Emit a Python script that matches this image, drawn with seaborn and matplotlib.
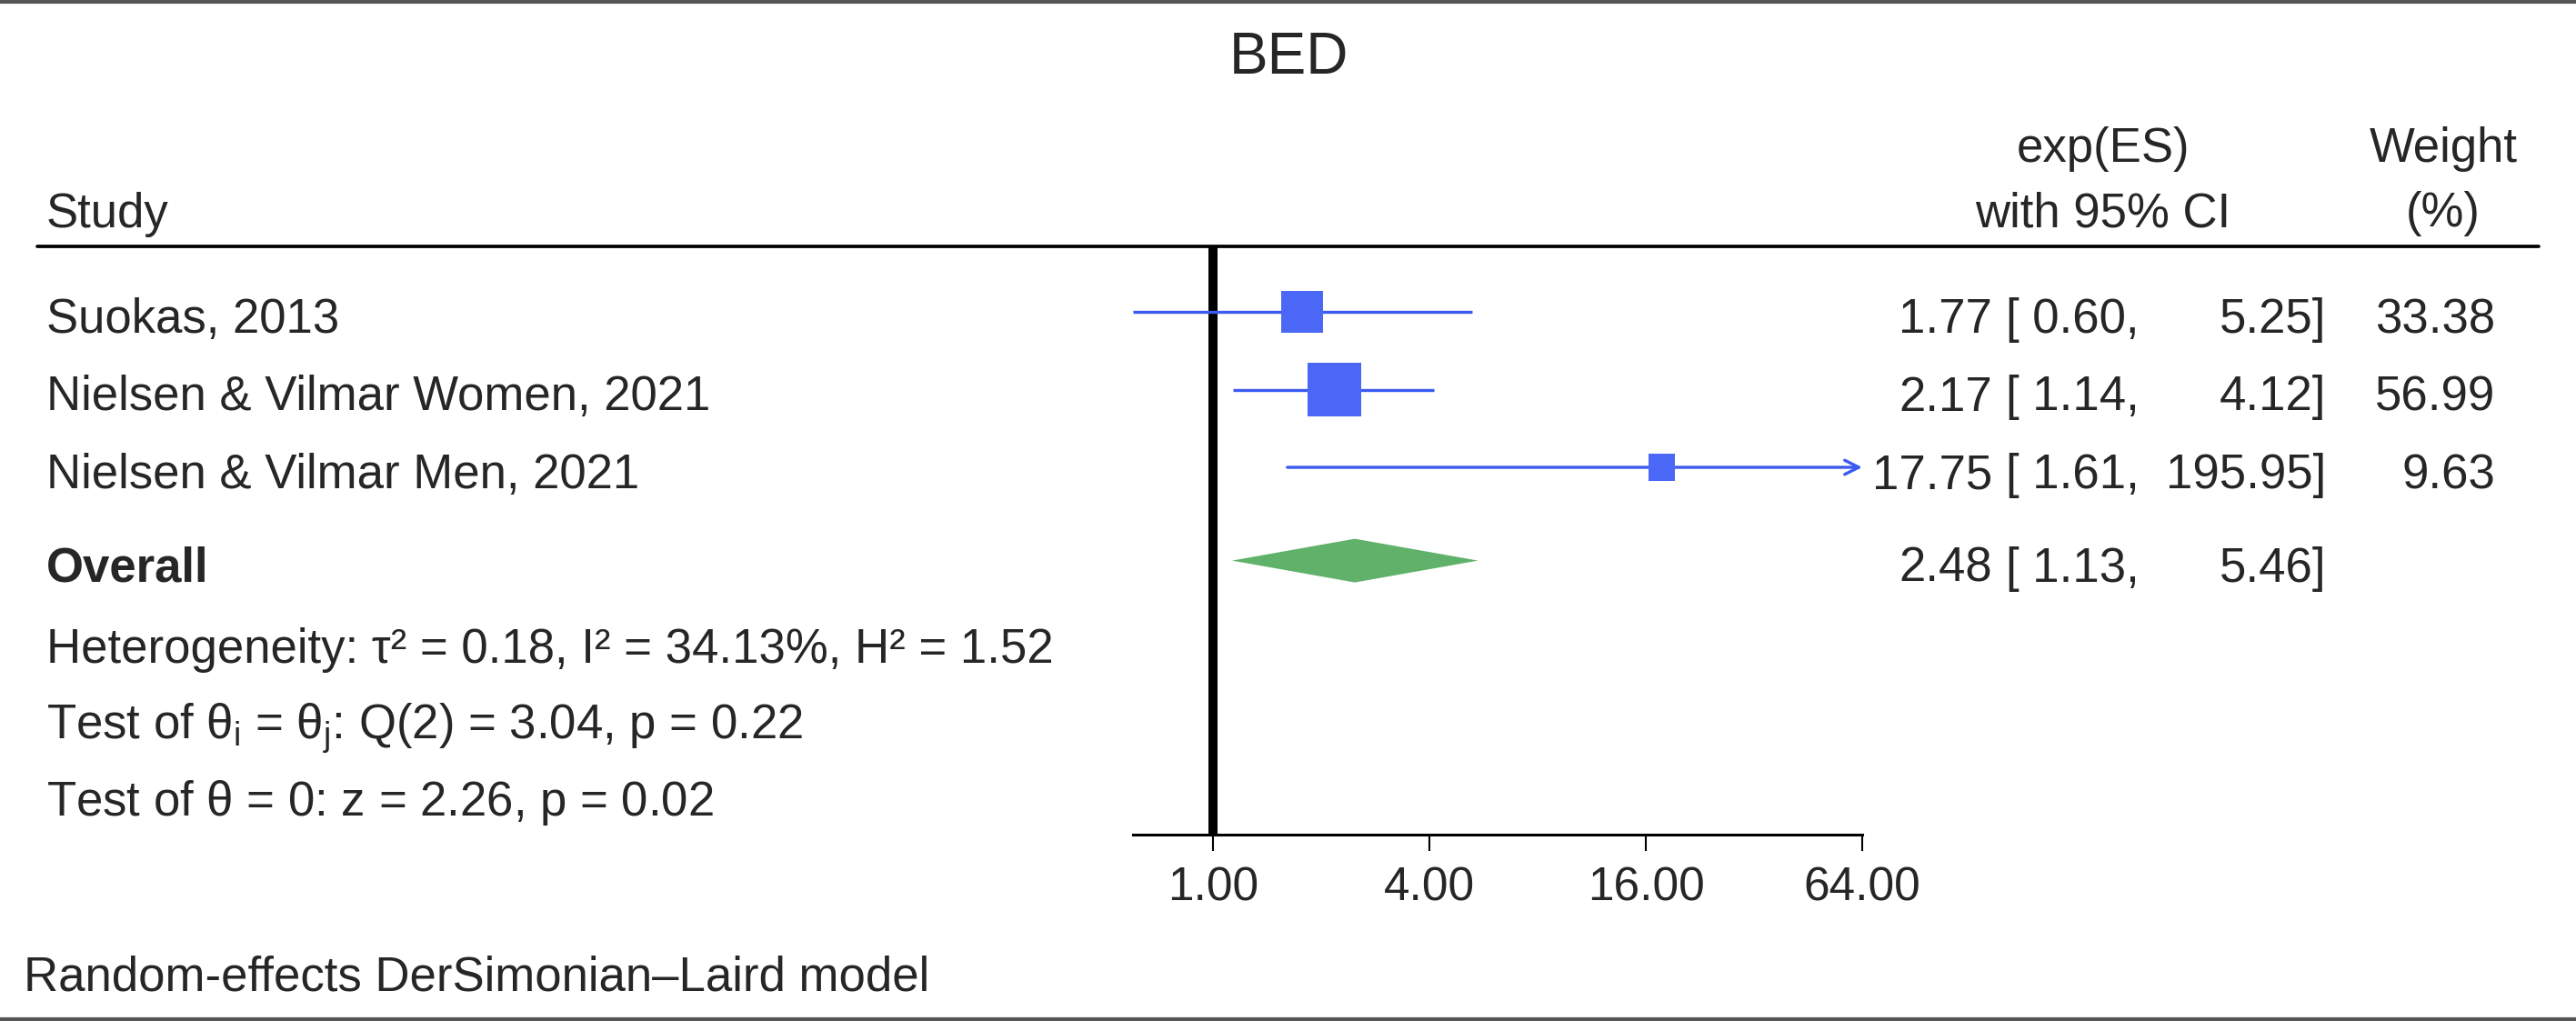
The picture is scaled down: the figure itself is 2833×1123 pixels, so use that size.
import numpy as np
import pandas as pd
import seaborn as sns
import matplotlib.pyplot as plt

# Data
studies = ['Suokas, 2013', 'Nielsen & Vilmar Women, 2021', 'Nielsen & Vilmar Men, 2021']
es = [1.77, 2.17, 17.75]
ci_low = [0.60, 1.14, 1.61]
ci_high = [5.25, 4.12, 195.95]
weight = [33.38, 56.99, 9.63]

overall_es = 2.48
overall_low = 1.13
overall_high = 5.46

het_lines = ['Heterogeneity: τ² = 0.18, I² = 34.13%, H² = 1.52',
             r'Test of $\theta_{i}$ = $\theta_{j}$: Q(2) = 3.04, p = 0.22',
             r'Test of $\theta$ = 0: z = 2.26, p = 0.02']
xticks = [1, 4, 16, 64]
xtick_labels = ['1.00', '4.00', '16.00', '64.00']
x_min, x_max = 0.6, 64

sns.set_theme(style='white')
plt.rcParams['font.family'] = ['Liberation Sans', 'DejaVu Sans']
plt.rcParams['mathtext.fontset'] = 'custom'
plt.rcParams['mathtext.rm'] = 'Liberation Sans'
plt.rcParams['mathtext.it'] = 'Liberation Sans'

W, H = 2833, 1123
fig = plt.figure(figsize=(W / 100, H / 100), dpi=100)
fig.patch.set_facecolor('white')


def fx(x):
    return x / W


def fy(y):
    return 1 - y / H


FS = 38
blue_box = '#4a68f5'
blue_line = '#3a5af0'
green = '#60b26b'

# forest panel: x=1 sits at 1334px, 119px per doubling
row_px = 85.5
row0 = 343
ax_top, ax_bot = 271, 918
ax_left = 1334 - 119 * 1
ax_right = 1334 + 119 * 6.2
ax = fig.add_axes([fx(ax_left), fy(ax_bot), (ax_right - ax_left) / W, (ax_bot - ax_top) / H])
ax.set_xscale('log', base=2)
ax.set_xlim(2 ** -1, 2 ** 6.2)
ax.set_ylim((ax_bot - row0) / row_px, (ax_top - row0) / row_px)
ax.patch.set_alpha(0)

df = pd.DataFrame({'study': studies, 'es': es, 'lo': ci_low, 'hi': ci_high,
                   'weight': weight, 'row': np.arange(len(studies))})

ax.axvline(1, color='black', lw=7.2, zorder=1)

for _, r in df.iterrows():
    if r['hi'] > x_max:
        ax.annotate('', xy=(x_max, r['row']), xytext=(r['lo'], r['row']),
                    arrowprops=dict(arrowstyle='->', color=blue_line, lw=2.4,
                                    mutation_scale=28, shrinkA=0, shrinkB=0), zorder=2)
    else:
        ax.hlines(r['row'], r['lo'], r['hi'], color=blue_line, lw=2.4, zorder=2)

sns.scatterplot(data=df, x='es', y='row', size='weight', sizes=(436, 1805),
                marker='s', color=blue_box, linewidth=0, legend=False, ax=ax, zorder=3)

ov_row = 3.2
dh = 24 / row_px
ax.fill([overall_low, overall_es, overall_high, overall_es],
        [ov_row, ov_row - dh, ov_row, ov_row + dh], color=green, lw=0, zorder=3)

for s in ['top', 'left', 'right']:
    ax.spines[s].set_visible(False)
ax.spines['bottom'].set_bounds(x_min, x_max)
ax.spines['bottom'].set_linewidth(2.2)
ax.spines['bottom'].set_color('black')
ax.set_xticks(xticks)
ax.set_xticklabels(xtick_labels)
ax.minorticks_off()
ax.tick_params(axis='x', which='major', bottom=True, direction='out', length=13,
               width=1.5, color='black', labelsize=37, pad=12)
ax.set_yticks([])
ax.set_xlabel('')
ax.set_ylabel('')

# title and header
fig.text(fx(1417), fy(81), 'BED', ha='center', va='baseline', fontsize=46)
fig.text(fx(51), fy(250), 'Study', ha='left', va='baseline', fontsize=FS)
fig.text(fx(2313), fy(178), 'exp(ES)', ha='center', va='baseline', fontsize=FS)
fig.text(fx(2313), fy(249), 'with 95% CI', ha='center', va='baseline', fontsize=FS)
fig.text(fx(2687), fy(178), 'Weight', ha='center', va='baseline', fontsize=FS)
fig.text(fx(2687), fy(249), '(%)', ha='center', va='baseline', fontsize=FS)

fig.add_artist(plt.Line2D([fx(41), fx(2792)], [fy(271), fy(271)], color='black', lw=2.7))
fig.add_artist(plt.Line2D([0, 1], [fy(2), fy(2)], color='#555555', lw=3))
fig.add_artist(plt.Line2D([0, 1], [fy(1121), fy(1121)], color='#555555', lw=3))

# study rows
for i, r in df.iterrows():
    base = row0 + r['row'] * row_px + 23
    fig.text(fx(51), fy(base), r['study'], ha='left', va='baseline', fontsize=FS)
    fig.text(fx(2191), fy(base), f"{r['es']:.2f}", ha='right', va='baseline', fontsize=FS)
    fig.text(fx(2353), fy(base), f"[ {r['lo']:.2f},", ha='right', va='baseline', fontsize=FS)
    fig.text(fx(2558), fy(base), f"{r['hi']:.2f}]", ha='right', va='baseline', fontsize=FS)
    fig.text(fx(2744), fy(base), f"{r['weight']:.2f}", ha='right', va='baseline', fontsize=FS)

ov_base = row0 + ov_row * row_px + 23
fig.text(fx(51), fy(ov_base), 'Overall', ha='left', va='baseline', fontsize=FS, fontweight='bold')
fig.text(fx(2191), fy(ov_base), f"{overall_es:.2f}", ha='right', va='baseline', fontsize=FS)
fig.text(fx(2353), fy(ov_base), f"[ {overall_low:.2f},", ha='right', va='baseline', fontsize=FS)
fig.text(fx(2558), fy(ov_base), f"{overall_high:.2f}]", ha='right', va='baseline', fontsize=FS)

for k, line in enumerate(het_lines):
    fig.text(fx(51), fy(729 + k * 84), line, ha='left', va='baseline', fontsize=FS)

fig.text(fx(26), fy(1090), 'Random-effects DerSimonian–Laird model', ha='left',
         va='baseline', fontsize=FS)

fig.savefig('out.png', dpi=100, facecolor='white')
